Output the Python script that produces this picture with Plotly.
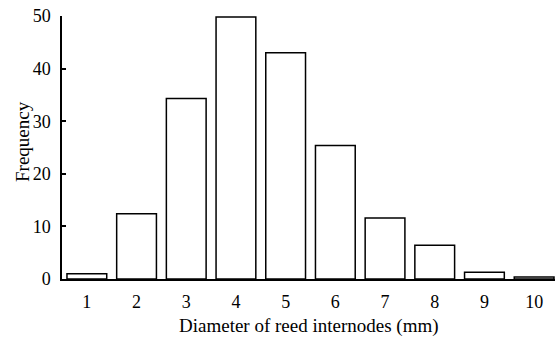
import plotly.graph_objects as go

categories = [1, 2, 3, 4, 5, 6, 7, 8, 9, 10]
frequency = [1.0, 12.4, 34.3, 49.8, 43.0, 25.4, 11.6, 6.4, 1.3, 0.4]
y_ticks = [0, 10, 20, 30, 40, 50]

fig = go.Figure(go.Bar(
    x=categories, y=frequency,
    marker=dict(color="white", line=dict(color="black", width=1.5)),
    width=0.8,
))

family = "Liberation Serif, Times New Roman, serif"
tick_font = dict(family=family, size=18, color="black")
title_font = dict(family=family, size=19, color="black")

fig.update_layout(
    width=555, height=340,
    margin=dict(l=62, r=0, t=16, b=61, autoexpand=False),
    paper_bgcolor="white", plot_bgcolor="white",
    font=tick_font, showlegend=False,
    xaxis=dict(
        range=[0.5, 10.42], tickvals=categories, ticktext=[str(c) for c in categories],
        showgrid=False, zeroline=False, showline=True, linecolor="black", linewidth=1.5,
        ticks="", ticklabelstandoff=6, automargin=False, tickfont=tick_font,
    ),
    yaxis=dict(
        range=[0, 50], tickvals=y_ticks, showgrid=False, zeroline=False,
        showline=True, linecolor="black", linewidth=1.5,
        ticks="inside", ticklen=4, tickcolor="black", tickwidth=1.5,
        ticklabelstandoff=6, automargin=False, tickfont=tick_font,
    ),
    annotations=[
        dict(text="Diameter of reed internodes (mm)", xref="paper", yref="paper",
             x=0.5, y=-47 / 263, xanchor="center", yanchor="middle",
             showarrow=False, font=title_font),
        dict(text="Frequency", xref="paper", yref="paper",
             x=-40 / 493, y=(279 - 142) / 263, xanchor="center", yanchor="middle",
             textangle=-90, showarrow=False, font=title_font),
    ],
)

fig.write_html("out.html", config={"displayModeBar": False},
               post_script="document.body.style.margin='0px';")
